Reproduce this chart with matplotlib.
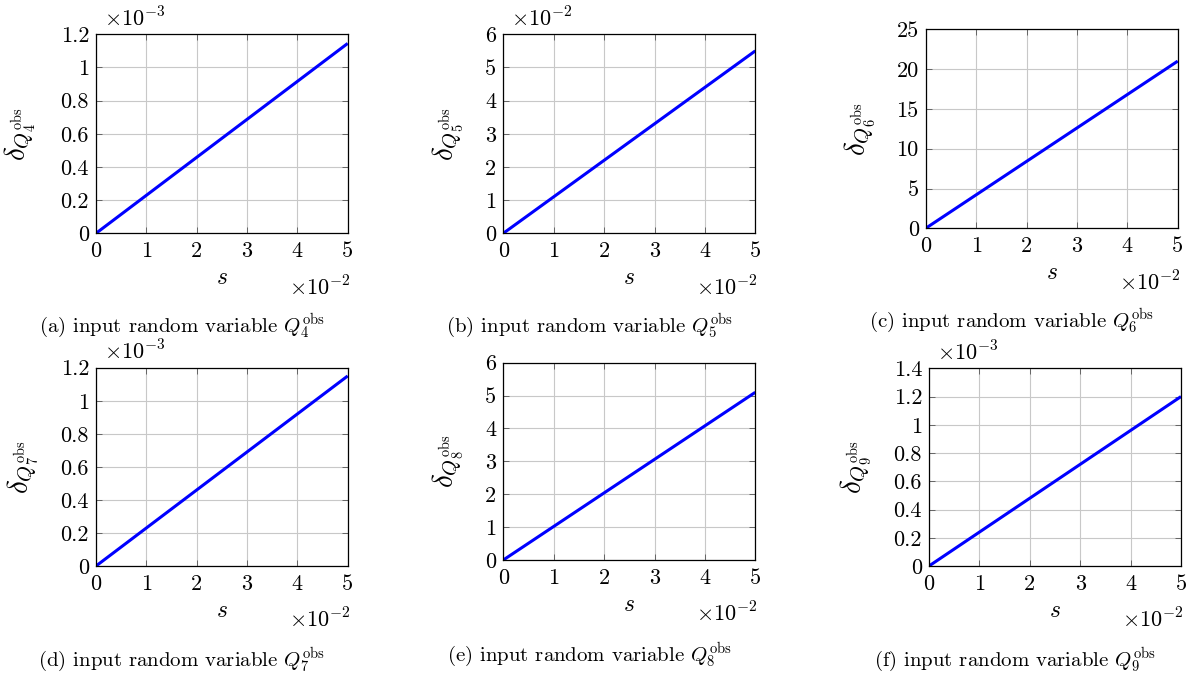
import numpy as np
import matplotlib
matplotlib.use('Agg')
import matplotlib.pyplot as plt
from matplotlib.ticker import FuncFormatter, MultipleLocator

plt.rcParams['font.family'] = 'serif'
plt.rcParams['font.serif'] = ['cmr10', 'DejaVu Serif']
plt.rcParams['mathtext.fontset'] = 'cm'
plt.rcParams['axes.unicode_minus'] = False
plt.rcParams['axes.formatter.use_mathtext'] = True

# perturbation size s, common to all panels
s = [0.0, 0.05]

# sensitivity delta at each end of s, one list per input variable
delta_q4 = [0.0, 1.145e-3]
delta_q5 = [0.0, 5.5e-2]
delta_q6 = [0.0, 21.0]
delta_q7 = [0.0, 1.15e-3]
delta_q8 = [0.0, 5.1]
delta_q9 = [0.0, 1.2e-3]

variables = ['4', '5', '6', '7', '8', '9']
letters = ['a', 'b', 'c', 'd', 'e', 'f']
series = [delta_q4, delta_q5, delta_q6, delta_q7, delta_q8, delta_q9]
y_max = [1.2e-3, 6e-2, 25, 1.2e-3, 6, 1.4e-3]
y_step = [0.2e-3, 1e-2, 5, 0.2e-3, 1, 0.2e-3]
y_scale = [1e-3, 1e-2, 1, 1e-3, 1, 1e-3]
y_exp = [-3, -2, None, -3, None, -3]

W, H = 1194, 673
# axes boxes in pixels: left, top, right, bottom
boxes = [
    (96, 34.3, 347.7, 233.3),
    (503.3, 34.3, 755.3, 233.3),
    (925.7, 29.3, 1177.7, 228.3),
    (96, 367.7, 347.7, 566),
    (503.3, 362.7, 755.3, 560),
    (929, 368.3, 1181, 566),
]
ylabel_x = [-0.23, -0.152, -0.194, -0.222, -0.152, -0.222]
caption_y = [326, 326, 321, 660, 655, 660]

fig = plt.figure(figsize=(W / 100, H / 100), dpi=100)

for i in range(6):
    l, t, r, b = boxes[i]
    ax = fig.add_axes([l / W, 1 - b / H, (r - l) / W, (b - t) / H])
    ax.plot(s, series[i], color='#0000ff', linewidth=2.2, solid_capstyle='butt', zorder=3)
    ax.set_xlim(0, 0.05)
    ax.set_ylim(0, y_max[i])
    ax.xaxis.set_major_locator(MultipleLocator(0.01))
    ax.yaxis.set_major_locator(MultipleLocator(y_step[i]))
    ax.xaxis.set_major_formatter(FuncFormatter(lambda v, p: '%g' % round(v / 1e-2, 6)))
    sc = y_scale[i]
    ax.yaxis.set_major_formatter(FuncFormatter(lambda v, p, sc=sc: '%g' % round(v / sc, 6)))
    ax.grid(True, color='#c8c8c8', linewidth=0.8)
    ax.set_axisbelow(True)
    ax.tick_params(direction='in', top=True, right=True, length=4.5, width=0.6,
                   color='#555555', labelsize=16)
    ax.tick_params(axis='x', pad=6)
    ax.tick_params(axis='y', pad=5)
    for sp in ax.spines.values():
        sp.set_linewidth(0.9)
        sp.set_zorder(4)
    ax.set_xlabel('$s$', fontsize=17, labelpad=4)
    ax.set_ylabel(r'$\delta_{Q_{%s}^{\mathrm{obs}}}$' % variables[i], fontsize=21)
    ax.yaxis.set_label_coords(ylabel_x[i], 0.5)
    ax.text(1.01, -0.27, r'$\times10^{-2}$', transform=ax.transAxes,
            ha='right', va='center', fontsize=16)
    if y_exp[i] is not None:
        ax.text(0.03, 1.08, r'$\times10^{%d}$' % y_exp[i], transform=ax.transAxes,
                ha='left', va='center', fontsize=16)
    cx = (l + r) / 2 - 40
    fig.text(cx / W, 1 - caption_y[i] / H,
             r'(%s) input random variable $Q_{%s}^{\mathrm{obs}}$' % (letters[i], variables[i]),
             ha='center', va='center', fontsize=15)

fig.savefig('out.png', dpi=100)
